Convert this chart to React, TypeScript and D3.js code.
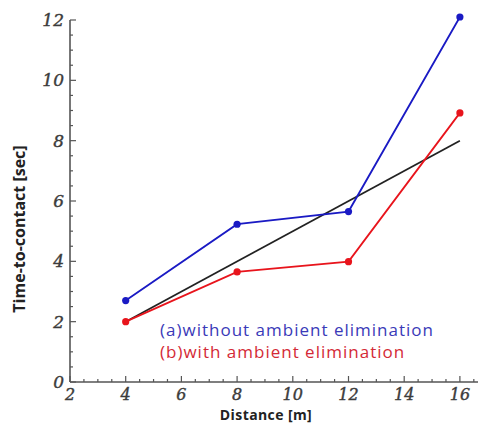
import { useEffect, useRef } from 'react';
import * as d3 from 'd3';

// distances [m]
const distances = [4, 8, 12, 16];
// time-to-contact [sec]
const withoutAmbient = [2.7, 5.23, 5.65, 12.1];
const withAmbient = [2.0, 3.65, 3.99, 8.92];
// reference (ground truth) line
const referenceX = [4, 16];
const referenceY = [2, 8];

const xTicks = [2, 4, 6, 8, 10, 12, 14, 16];
const yTicks = [0, 2, 4, 6, 8, 10, 12];

const W = 479;
const H = 423;

export default function App() {
  const ref = useRef<SVGSVGElement | null>(null);

  useEffect(() => {
    if (!ref.current) return;
    const svg = d3.select(ref.current);
    svg.selectAll('*').remove();

    const x = d3.scaleLinear().domain([2, 16.65]).range([70, 478]);
    const y = d3.scaleLinear().domain([0, 12]).range([382, 20]);

    const axisColor = '#555';
    const tickFont = '"DejaVu Serif", serif';

    // axes lines
    svg.append('line')
      .attr('x1', x(2)).attr('x2', x(16.65))
      .attr('y1', y(0)).attr('y2', y(0))
      .attr('stroke', axisColor).attr('stroke-width', 1.6);
    svg.append('line')
      .attr('x1', x(2)).attr('x2', x(2))
      .attr('y1', y(0)).attr('y2', y(12))
      .attr('stroke', axisColor).attr('stroke-width', 1.6);

    // x ticks (inward), minor every 0.5
    const xMinor = d3.range(2, 16.6, 0.5);
    svg.append('g').selectAll('line')
      .data(xMinor)
      .enter()
      .append('line')
      .attr('x1', d => x(d)).attr('x2', d => x(d))
      .attr('y1', y(0))
      .attr('y2', d => y(0) - (d % 2 === 0 ? 6 : 3))
      .attr('stroke', axisColor).attr('stroke-width', 1.2);

    svg.append('g').selectAll('text')
      .data(xTicks)
      .enter()
      .append('text')
      .attr('x', d => x(d))
      .attr('y', y(0) + 18)
      .attr('text-anchor', 'middle')
      .style('font-family', tickFont)
      .style('font-style', 'italic')
      .style('font-size', '16px')
      .style('fill', '#3c3c3c')
      .style('stroke', '#3c3c3c')
      .style('stroke-width', 0.4)
      .text(d => d);

    // y ticks (inward), minor every 0.5
    const yMinor = d3.range(0, 12.01, 0.5);
    svg.append('g').selectAll('line')
      .data(yMinor)
      .enter()
      .append('line')
      .attr('y1', d => y(d)).attr('y2', d => y(d))
      .attr('x1', x(2))
      .attr('x2', d => x(2) + (d % 2 === 0 ? 6 : 3))
      .attr('stroke', axisColor).attr('stroke-width', 1.2);

    svg.append('g').selectAll('text')
      .data(yTicks)
      .enter()
      .append('text')
      .attr('x', x(2) - 6)
      .attr('y', d => y(d) + 6)
      .attr('text-anchor', 'end')
      .style('font-family', tickFont)
      .style('font-style', 'italic')
      .style('font-size', '17px')
      .style('fill', '#3c3c3c')
      .style('stroke', '#3c3c3c')
      .style('stroke-width', 0.4)
      .text(d => d);

    const line = d3.line<[number, number]>()
      .x(d => x(d[0]))
      .y(d => y(d[1]));

    // reference line
    svg.append('path')
      .datum(referenceX.map((d, i) => [d, referenceY[i]] as [number, number]))
      .attr('fill', 'none')
      .attr('stroke', '#222')
      .attr('stroke-width', 1.8)
      .attr('d', line);

    const series = [
      { values: withAmbient, color: '#e8141c' },
      { values: withoutAmbient, color: '#1a1ac4' },
    ];

    series.forEach(s => {
      const pts = distances.map((d, i) => [d, s.values[i]] as [number, number]);
      svg.append('path')
        .datum(pts)
        .attr('fill', 'none')
        .attr('stroke', s.color)
        .attr('stroke-width', 1.8)
        .attr('d', line);
      svg.append('g').selectAll('circle')
        .data(pts)
        .enter()
        .append('circle')
        .attr('cx', d => x(d[0]))
        .attr('cy', d => y(d[1]))
        .attr('r', 3.6)
        .attr('fill', s.color);
    });

    // legend
    const legendFont = '"Open Sans", sans-serif';
    svg.append('text')
      .attr('x', 160).attr('y', 336)
      .style('font-family', legendFont)
      .style('font-size', '17px')
      .style('letter-spacing', '1px')
      .style('fill', '#3a3ab8')
      .text('(a)without ambient elimination');
    svg.append('text')
      .attr('x', 160).attr('y', 358)
      .style('font-family', legendFont)
      .style('font-size', '17px')
      .style('letter-spacing', '1px')
      .style('fill', '#d42a36')
      .text('(b)with ambient elimination');

    // axis titles
    svg.append('text')
      .attr('transform', `translate(25,${229}) rotate(-90)`)
      .attr('text-anchor', 'middle')
      .style('font-family', legendFont)
      .style('font-weight', 700)
      .style('font-size', '16px')
      .style('fill', '#222')
      .text('Time-to-contact [sec]');
    svg.append('text')
      .attr('x', 266).attr('y', 420)
      .attr('text-anchor', 'middle')
      .style('font-family', legendFont)
      .style('font-weight', 700)
      .style('font-size', '14px')
      .style('letter-spacing', '0.4px')
      .style('fill', '#222')
      .text('Distance [m]');
  }, []);

  return (
    <svg
      ref={ref}
      width={W}
      height={H}
      style={{ position: 'fixed', left: 0, top: 0, background: '#fff' }}
    />
  );
}
